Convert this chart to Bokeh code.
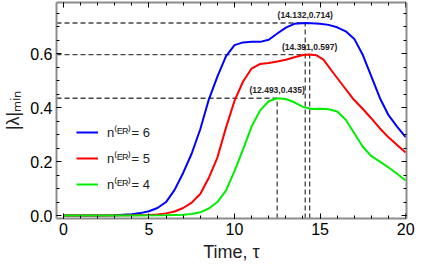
from bokeh.plotting import figure
from bokeh.models import Range1d, LinearAxis, FixedTicker, PrintfTickFormatter, Legend, LegendItem
from bokeh.embed import file_html
from bokeh.resources import INLINE

# ---- data ----
t_blue = [0, 1, 2, 3, 4, 4.5, 5, 5.5, 6, 6.5, 7, 7.5, 8, 8.5, 9, 9.5, 10, 10.5, 11, 11.5, 12,
          12.5, 13, 13.5, 14.132, 14.5, 15, 15.5, 16, 16.5, 17, 17.5, 18, 18.5, 19, 19.5, 20]
v_blue = [0, 0, 0, 0.001, 0.005, 0.009, 0.016, 0.028, 0.05, 0.095, 0.158, 0.23, 0.32, 0.43, 0.515,
          0.59, 0.632, 0.642, 0.644, 0.644, 0.652, 0.675, 0.697, 0.711, 0.714, 0.713, 0.711, 0.707,
          0.698, 0.683, 0.655, 0.595, 0.515, 0.435, 0.372, 0.33, 0.291]

t_red = [0, 2, 4, 5, 5.5, 6, 6.5, 7, 7.5, 8, 8.5, 9, 9.5, 10, 10.5, 11, 11.5, 12, 12.5, 13, 13.5,
         14, 14.391, 14.8, 15.2, 15.7, 16.3, 16.9, 17.5, 18, 18.5, 19, 19.5, 20]
v_red = [0, 0, 0.001, 0.002, 0.004, 0.008, 0.015, 0.028, 0.048, 0.08, 0.14, 0.215, 0.325, 0.425,
         0.497, 0.545, 0.562, 0.566, 0.571, 0.578, 0.587, 0.595, 0.597, 0.594, 0.578, 0.535, 0.485,
         0.435, 0.395, 0.36, 0.323, 0.29, 0.262, 0.234]

t_green = [0, 3, 6, 7, 7.5, 8, 8.5, 9, 9.5, 10, 10.5, 11, 11.5, 12, 12.493, 13, 13.5, 14, 14.5,
           15, 15.5, 16, 16.5, 17, 17.5, 18, 18.5, 19, 19.5, 20]
v_green = [0, 0, 0.001, 0.003, 0.006, 0.012, 0.026, 0.05, 0.092, 0.165, 0.245, 0.33, 0.39, 0.424,
           0.435, 0.432, 0.42, 0.403, 0.395, 0.396, 0.394, 0.386, 0.355, 0.305, 0.255, 0.22, 0.2,
           0.178, 0.155, 0.13]

series_labels = ["n⁽ᴱᴿ⁾= 6", "n⁽ᴱᴿ⁾= 5", "n⁽ᴱᴿ⁾= 4"]
series_colors = ["#0000ff", "#ff0000", "#00ee00"]

peak_x = [14.132, 14.391, 12.493]
peak_y = [0.714, 0.597, 0.435]
peak_text = ["(14.132,0.714)", "(14.391,0.597)", "(12.493,0.435)"]

x_ticks = [0, 5, 10, 15, 20]
y_ticks = [0.0, 0.2, 0.4, 0.6]

X_MIN, X_MAX = -0.4, 20.05
Y_MIN, Y_MAX = -0.011, 0.79

FONT = "Liberation Sans"

p = figure(frame_width=350, frame_height=216, output_backend="svg", toolbar_location=None,
           x_range=Range1d(X_MIN, X_MAX), y_range=Range1d(Y_MIN, Y_MAX),
           min_border_left=53, min_border_right=10, min_border_top=2, min_border_bottom=5,
           x_axis_label="Time, τ", y_axis_label="|λ|ₘᵢₙ")
p.outline_line_color = None
p.grid.visible = False
p.background_fill_color = "white"
p.border_fill_color = "white"

def style_axis(ax, show_labels=True):
    ax.axis_line_color = "#8c8c8c"
    ax.axis_line_width = 2
    ax.major_tick_line_color = "black"
    ax.minor_tick_line_color = "black"
    ax.major_tick_in = 5
    ax.major_tick_out = 0
    ax.minor_tick_in = 3
    ax.minor_tick_out = 0
    ax.major_label_text_font = FONT
    if show_labels:
        ax.major_label_text_font_size = "16px"
        ax.major_label_text_color = "black"
        ax.major_label_standoff = 4
    else:
        ax.major_label_text_font_size = "1px"
        ax.major_label_text_color = None
        ax.major_label_standoff = 0
    ax.axis_label_text_font = FONT
    ax.axis_label_text_font_size = "18px"
    ax.axis_label_text_font_style = "normal"
    ax.axis_label_text_color = "#222222"
    ax.axis_label_standoff = 4

xt = FixedTicker(ticks=x_ticks, minor_ticks=list(range(0, 21)))
yt = FixedTicker(ticks=y_ticks, minor_ticks=[round(0.05 * i, 2) for i in range(0, 16)])

for ax in p.xaxis:
    ax.ticker = xt
    style_axis(ax)
for ax in p.yaxis:
    ax.ticker = yt
    ax.formatter = PrintfTickFormatter(format="%.1f")
    style_axis(ax)

top = LinearAxis(ticker=xt)
style_axis(top, False)
p.add_layout(top, "above")
right = LinearAxis(ticker=yt)
style_axis(right, False)
p.add_layout(right, "right")

# dashed guide lines
p.segment(x0=[X_MIN] * 3, y0=peak_y, x1=peak_x, y1=peak_y,
          line_color="#444444", line_width=1.3, line_dash="5 3")
p.segment(x0=peak_x, y0=[Y_MIN] * 3, x1=peak_x, y1=peak_y,
          line_color="#444444", line_width=1.3, line_dash="5 3")

r_b = p.line(t_blue, v_blue, line_color=series_colors[0], line_width=2)
r_r = p.line(t_red, v_red, line_color=series_colors[1], line_width=2)
r_g = p.line(t_green, v_green, line_color=series_colors[2], line_width=2)

p.text(x=peak_x, y=peak_y, text=peak_text, text_font_size="8.5px",
       text_font_style="bold", text_color="#222222", text_align="center",
       text_baseline="bottom", y_offset=-3, text_font={"value": FONT})

legend = Legend(items=[LegendItem(label=series_labels[0], renderers=[r_b]),
                       LegendItem(label=series_labels[1], renderers=[r_r]),
                       LegendItem(label=series_labels[2], renderers=[r_g])],
                location=(20, 24), border_line_color=None, background_fill_alpha=0,
                padding=0, margin=0, spacing=6, glyph_width=22, glyph_height=20,
                label_height=20, label_standoff=9, label_text_font=FONT,
                label_text_font_size="13px", label_text_color="#222222")
p.add_layout(legend)

open("out.html", "w").write(file_html(p, INLINE))
